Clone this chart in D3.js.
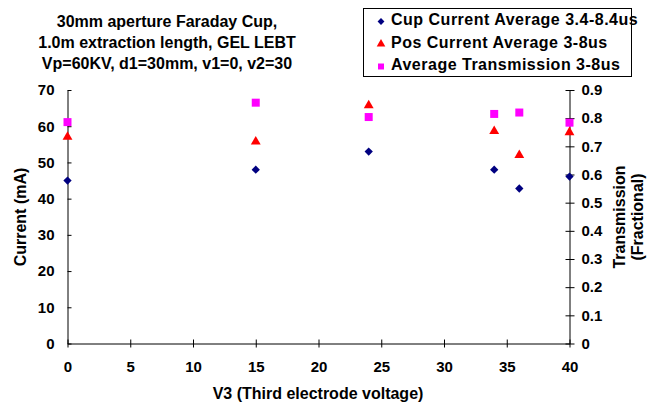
<!DOCTYPE html>
<html><head><meta charset="utf-8">
<script src="https://cdn.jsdelivr.net/npm/d3@7"></script>
<style>body{margin:0;background:#fff}svg text{font-family:"Liberation Sans",Arial,sans-serif;font-weight:bold}</style>
</head><body>
<svg id="c" width="647" height="404"></svg>
<script>
const voltages = [0, 15, 24, 34, 36, 40];
const cupCurrent = [45, 48, 53, 48, 42.8, 46.1];
const posCurrent = [57.3, 56, 66, 58.9, 52.3, 58.6];
const transmission = [0.786, 0.855, 0.804, 0.815, 0.820, 0.784];
const xTicks = [0, 5, 10, 15, 20, 25, 30, 35, 40];
const yTicks = [0, 10, 20, 30, 40, 50, 60, 70];
const y2Ticks = [0, 0.1, 0.2, 0.3, 0.4, 0.5, 0.6, 0.7, 0.8, 0.9];
const titleLines = ["30mm aperture Faraday Cup,", "1.0m extraction length, GEL LEBT", "Vp=60KV, d1=30mm, v1=0, v2=30"];
const legendLabels = ["Cup Current Average 3.4-8.4us", "Pos Current Average 3-8us", "Average Transmission 3-8us"];

const svg = d3.select("#c");
const L = 67.5, R = 569.5, T = 90, B = 343.5;
const x = d3.scaleLinear().domain([0, 40]).range([L, R]);
const y = d3.scaleLinear().domain([0, 70]).range([B, T]);
const y2 = d3.scaleLinear().domain([0, 0.9]).range([B, T]);

function styleAxis(g){
  g.select(".domain").attr("stroke","#000");
  g.selectAll(".tick line").attr("stroke","#000");
  g.selectAll(".tick text").attr("font-size","15px").attr("fill","#000");
}
// x axis
const gx = svg.append("g").attr("transform",`translate(0,${B})`)
  .call(d3.axisBottom(x).tickValues(xTicks).tickSize(4).tickSizeOuter(0).tickPadding(14).tickFormat(d3.format("d")));
gx.selectAll(".tick line").attr("y1",-4);
styleAxis(gx);
// left y
const gy = svg.append("g").attr("transform",`translate(${L},0)`)
  .call(d3.axisLeft(y).tickValues(yTicks).tickSize(5).tickSizeOuter(0).tickPadding(8));
gy.selectAll(".tick line").attr("x2",4);
styleAxis(gy);
// right y
const gy2 = svg.append("g").attr("transform",`translate(${R},0)`)
  .call(d3.axisRight(y2).tickValues(y2Ticks).tickSize(5).tickSizeOuter(0).tickPadding(7).tickFormat(d => d===0 ? "0" : d3.format(".1f")(d)));
gy2.selectAll(".tick line").attr("x2",5).attr("x1",-4);
styleAxis(gy2);

// title
svg.append("g").selectAll("text").data(titleLines).join("text")
  .attr("x",167).attr("y",(d,i)=>27+i*21).attr("text-anchor","middle").attr("font-size","16px").text(d=>d);

// axis titles
svg.append("text").attr("transform","translate(26,217) rotate(-90)").attr("text-anchor","middle").attr("font-size","16px").text("Current (mA)");
svg.append("text").attr("transform","translate(625,217) rotate(-90)").attr("text-anchor","middle").attr("font-size","16px").text("Transmission");
svg.append("text").attr("transform","translate(643,217) rotate(-90)").attr("text-anchor","middle").attr("font-size","16px").text("(Fractional)");
svg.append("text").attr("x",318).attr("y",399).attr("text-anchor","middle").attr("font-size","16px").text("V3 (Third electrode voltage)");

const diamond = d3.symbol().type(d3.symbolDiamond2).size(44)();
const tri = d3.symbol().type(d3.symbolTriangle).size(42)();
const sq = d3.symbol().type(d3.symbolSquare).size(64)();

const pts = voltages.map((v,i)=>({v, c:cupCurrent[i], p:posCurrent[i], t:transmission[i]}));
svg.append("g").selectAll("path").data(pts).join("path")
  .attr("d",diamond).attr("fill","#000080").attr("transform",d=>`translate(${x(d.v)},${y(d.c)})`);
svg.append("g").selectAll("path").data(pts).join("path")
  .attr("d",tri).attr("fill","#ff0000").attr("transform",d=>`translate(${x(d.v)},${y(d.p)+1})`);
svg.append("g").selectAll("path").data(pts).join("path")
  .attr("d",sq).attr("fill","#ff00ff").attr("transform",d=>`translate(${x(d.v)},${y2(d.t)})`);

// legend
const lg = svg.append("g");
lg.append("rect").attr("x",363.5).attr("y",8.5).attr("width",268).attr("height",68).attr("fill","#fff").attr("stroke","#000");
const symbols = [[d3.symbol().type(d3.symbolDiamond2).size(30)(),"#000080"],[d3.symbol().type(d3.symbolTriangle).size(32)(),"#ff0000"],[d3.symbol().type(d3.symbolSquare).size(36)(),"#ff00ff"]];
const legBase = [25, 47.5, 70];
legendLabels.forEach((lab,i)=>{
  const yy = legBase[i];
  lg.append("path").attr("d",symbols[i][0]).attr("fill",symbols[i][1]).attr("transform",`translate(381,${yy-3.5})`);
  lg.append("text").attr("x",391).attr("y",yy).attr("font-size","16px").attr("letter-spacing","0.5px").text(lab);
});
</script>
</body></html>
